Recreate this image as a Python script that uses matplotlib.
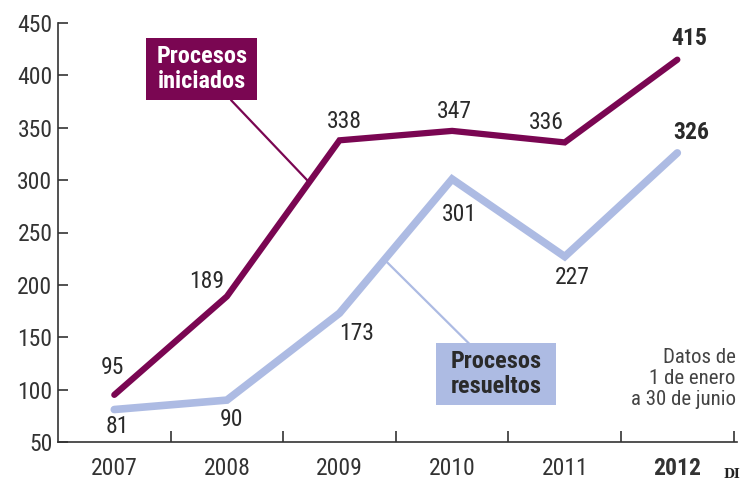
import matplotlib
matplotlib.use("Agg")
import matplotlib.pyplot as plt
from matplotlib import font_manager
from matplotlib.patches import Rectangle

years = ["2007", "2008", "2009", "2010", "2011", "2012"]
iniciados = [95, 189, 338, 347, 336, 415]
resueltos = [81, 90, 173, 301, 227, 326]
yticks = [50, 100, 150, 200, 250, 300, 350, 400, 450]

# label offsets in pixels (dx, dy) relative to point
off_ini = [(-2, 27), (-20, 15), (5, 19), (2, 19), (-18, 20), (12, 21)]
off_res = [(3, -17), (5, -19), (17, -20), (7, -35), (8, -21), (14, 20)]

avail = {f.name for f in font_manager.fontManager.ttflist}
fam = None
for cand in ["Liberation Sans Narrow", "Roboto Condensed", "Open Sans Condensed", "Roboto", "DejaVu Sans"]:
    if cand in avail:
        fam = cand
        break
plt.rcParams["font.family"] = [fam, "DejaVu Sans"]

PURPLE = "#7a0652"
BLUE = "#adbbe3"
TXT = "#2a2a2a"
FS = 17

fig = plt.figure(figsize=(7.41, 4.82), dpi=100)
ax = fig.add_axes([58 / 741, 1 - 442 / 482, 679 / 741, 419 / 482])
x = list(range(len(years)))

ax.plot(x, resueltos, color=BLUE, lw=5.5, solid_capstyle="round", solid_joinstyle="miter", zorder=3)
ax.plot(x, iniciados, color=PURPLE, lw=4.5, solid_capstyle="round", solid_joinstyle="miter", zorder=4)

ax.set_xlim(-0.5, 5.53)
ax.set_ylim(50, 450)

for i, v in enumerate(iniciados):
    dx, dy = off_ini[i]
    ax.annotate(str(v), (i, v), xytext=(dx * 0.72, dy * 0.72), textcoords="offset points",
                ha="center", va="center", fontsize=FS, color=TXT,
                fontweight="bold" if i == len(years) - 1 else "normal", zorder=6)
for i, v in enumerate(resueltos):
    dx, dy = off_res[i]
    ax.annotate(str(v), (i, v), xytext=(dx * 0.72, dy * 0.72), textcoords="offset points",
                ha="center", va="center", fontsize=FS, color=TXT,
                fontweight="bold" if i == len(years) - 1 else "normal", zorder=6)

# leader lines
ax.plot([1.04, 1.73], [376, 298], color=PURPLE, lw=1.6, zorder=2)
ax.plot([2.40, 3.15], [224, 144], color=BLUE, lw=1.6, zorder=2)

# label boxes
ax.add_patch(Rectangle((0.284, 376.5), 0.986, 59.2, facecolor=PURPLE, edgecolor="none", zorder=5))
ax.text(0.777, 406, "Procesos\niniciados", ha="center", va="center", color="white",
        fontsize=17.5, fontweight="bold", linespacing=1.1, zorder=6)
ax.add_patch(Rectangle((2.86, 85.3), 1.06, 59.2, facecolor=BLUE, edgecolor="none", zorder=5))
ax.text(3.39, 115, "Procesos\nresueltos", ha="center", va="center", color=TXT,
        fontsize=17.5, fontweight="bold", linespacing=1.1, zorder=6)

ax.text(5.52, 140, "Datos de\n1 de enero\na 30 de junio", ha="right", va="top",
        fontsize=15, color="#444444", linespacing=1.15)

# axes styling
for s in ["top", "right"]:
    ax.spines[s].set_visible(False)
ax.spines["left"].set_color("#333333")
ax.spines["bottom"].set_color("#333333")
ax.spines["left"].set_linewidth(1.2)
ax.spines["bottom"].set_linewidth(1.2)
ax.set_yticks(yticks)
ax.set_yticklabels([str(t) for t in yticks])
ax.tick_params(axis="y", direction="in", length=7, width=1.2, color="#333333",
               labelsize=FS, labelcolor="#333333", pad=4)
ax.set_xticks([i + 0.5 for i in range(len(years))])
ax.set_xticklabels([])
ax.tick_params(axis="x", direction="in", length=8, width=1.2, color="#333333")
for i, yr in enumerate(years):
    ax.text(i, -0.035, yr, transform=ax.get_xaxis_transform(), ha="center", va="top",
            fontsize=FS, color="#333333",
            fontweight="bold" if i == len(years) - 1 else "normal")

fig.text(740 / 741, 1 - 474 / 482, "DI", ha="right", va="center", fontsize=9,
         fontweight="bold", family="DejaVu Serif", color="#222222")

fig.savefig("out.png", dpi=100)
